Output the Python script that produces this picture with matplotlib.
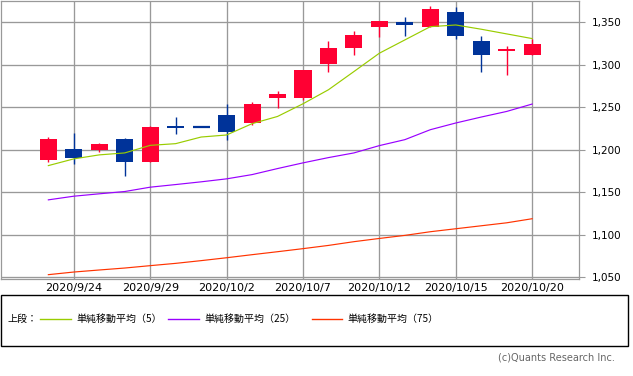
import matplotlib
matplotlib.use("Agg")
import matplotlib.pyplot as plt
from matplotlib.lines import Line2D
from matplotlib.patches import Rectangle
import numpy as np

dates = ["2020/9/23", "2020/9/24", "2020/9/25", "2020/9/28", "2020/9/29", "2020/9/30",
         "2020/10/1", "2020/10/2", "2020/10/5", "2020/10/6", "2020/10/7", "2020/10/8",
         "2020/10/9", "2020/10/12", "2020/10/13", "2020/10/14", "2020/10/15",
         "2020/10/16", "2020/10/19", "2020/10/20"]
opens  = [1188, 1201, 1200, 1213, 1186, 1228, 1227, 1241, 1231, 1261, 1261, 1301, 1320, 1345, 1350, 1345, 1362, 1328, 1316, 1312]
highs  = [1215, 1220, 1208, 1214, 1228, 1239, 1227, 1254, 1256, 1269, 1294, 1328, 1340, 1352, 1356, 1369, 1368, 1334, 1322, 1330]
lows   = [1186, 1183, 1197, 1169, 1186, 1219, 1227, 1211, 1229, 1249, 1259, 1291, 1312, 1333, 1334, 1345, 1330, 1292, 1288, 1312]
closes = [1213, 1190, 1207, 1186, 1227, 1226, 1227, 1221, 1254, 1266, 1294, 1320, 1335, 1351, 1347, 1366, 1334, 1312, 1319, 1325]
ma5  = [1181.4, 1189.3, 1194.0, 1196.3, 1205.2, 1207.2, 1215.0, 1217.4, 1230.7, 1239.2, 1254.1,
        1270.6, 1292.0, 1313.6, 1329.2, 1344.8, 1346.8, 1341.8, 1336.3, 1330.8]
ma25 = [1141.1, 1145.4, 1148.2, 1150.9, 1156.0, 1159.1, 1162.3, 1165.8, 1170.8, 1177.9, 1184.6,
        1190.8, 1196.3, 1204.9, 1211.9, 1223.6, 1231.5, 1238.5, 1245.1, 1253.8]
ma75 = [1053.1, 1056.2, 1058.6, 1060.9, 1063.7, 1066.4, 1069.6, 1073.0, 1076.6, 1080.1, 1083.7,
        1087.5, 1091.9, 1095.7, 1099.3, 1103.6, 1107.1, 1110.6, 1114.1, 1118.9]
tick_idx = [1, 4, 7, 10, 13, 16, 19]
yticks = [1050, 1100, 1150, 1200, 1250, 1300, 1350]
legend_labels = ["単純移動平均（5）", "単純移動平均（25）", "単純移動平均（75）"]

UP = "#FF0033"
DOWN = "#003399"
GRID = "#999999"
MA_COLORS = ["#99CC00", "#9900FF", "#FF3300"]

W, H = 633, 376
fig = plt.figure(figsize=(W / 100, H / 100), dpi=100)
ax = fig.add_axes([1 / W, (H - 279) / H, 578 / W, 278 / H])

x = np.arange(len(dates))
bw = 0.67
for i in x:
    o, h, l, c = opens[i], highs[i], lows[i], closes[i]
    col = UP if c > o else DOWN
    ax.vlines(i, l, h, color=col, linewidth=1.0, zorder=3)
    bottom = min(o, c)
    height = abs(c - o)
    if height < 1.5:
        ax.hlines((o + c) / 2, i - bw / 2, i + bw / 2, color=col, linewidth=1.6, zorder=4)
    else:
        ax.bar(i, height, bottom=bottom, width=bw, color=col, linewidth=0, zorder=4)

for vals, colr in zip([ma5, ma25, ma75], MA_COLORS):
    ax.plot(x, vals, color=colr, linewidth=0.85, zorder=5)

ax.set_xlim(-1.86, 20.84)
ax.set_ylim(1048, 1375)
ax.set_xticks(tick_idx)
ax.set_xticklabels([dates[i] for i in tick_idx], fontsize=8)
ax.set_yticks(yticks)
ax.set_yticklabels([f"{v:,}" for v in yticks], fontsize=7.5)
ax.yaxis.tick_right()
ax.tick_params(axis="y", length=4, pad=5, colors="#000000")
ax.tick_params(axis="y", color=GRID)
ax.tick_params(axis="x", length=0, pad=3)
ax.grid(True, color=GRID, linewidth=0.95)
ax.set_axisbelow(True)
for sp in ax.spines.values():
    sp.set_color(GRID)
    sp.set_linewidth(0.9)

# legend box
fig.patches.append(Rectangle((0.5 / W, (H - 346) / H), 627.5 / W, 51 / H,
                             transform=fig.transFigure, fill=False,
                             edgecolor="black", linewidth=1.0))
ly = (H - 318.5) / H
cjk = ["Noto Sans CJK JP", "DejaVu Sans"]
fig.text(8 / W, ly, "上段：", fontsize=7.2, family=cjk, va="center", ha="left")
line_x = [(40, 71, 76), (168, 199, 204), (312, 342, 347)]
for (x0, x1, tx), colr, lab in zip(line_x, MA_COLORS, legend_labels):
    fig.lines.append(Line2D([x0 / W, x1 / W], [ly, ly], transform=fig.transFigure,
                            color=colr, linewidth=1.0))
    fig.text(tx / W, ly, lab, fontsize=7.2, family=cjk, va="center", ha="left")

fig.text(615 / W, (H - 357) / H, "(c)Quants Research Inc.", fontsize=7,
         color="#666666", ha="right", va="center")

fig.savefig("out.png", dpi=100)
